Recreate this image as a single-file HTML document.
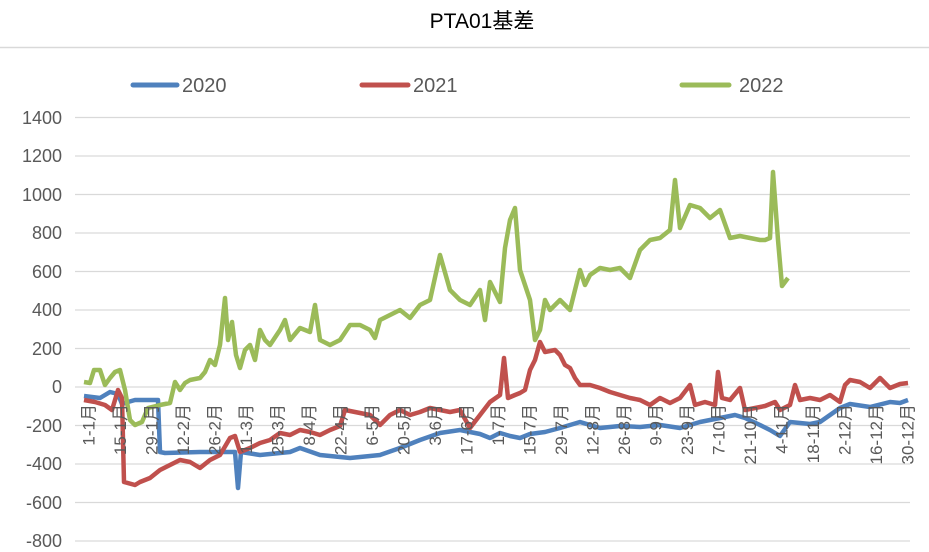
<!DOCTYPE html>
<html><head><meta charset="utf-8"><style>body{margin:0;background:#fff}svg{display:block}</style></head><body>
<svg width="929" height="552" xmlns="http://www.w3.org/2000/svg" font-family="Liberation Sans, Noto Sans CJK SC, sans-serif">
<rect width="929" height="552" fill="#fff"/>
<text x="482" y="28" font-size="21" text-anchor="middle" fill="#000">PTA01<tspan font-family="Noto Sans CJK SC, sans-serif">基差</tspan></text>
<line x1="0" y1="47.5" x2="929" y2="47.5" stroke="#d9d9d9" stroke-width="1.5"/>
<g stroke="#d9d9d9" stroke-width="1.3">
<line x1="75" x2="910" y1="117.5" y2="117.5"/><line x1="75" x2="910" y1="156" y2="156"/><line x1="75" x2="910" y1="194.5" y2="194.5"/><line x1="75" x2="910" y1="233" y2="233"/><line x1="75" x2="910" y1="271.5" y2="271.5"/><line x1="75" x2="910" y1="310" y2="310"/><line x1="75" x2="910" y1="348.5" y2="348.5"/><line x1="75" x2="910" y1="387" y2="387"/><line x1="75" x2="910" y1="425.5" y2="425.5"/><line x1="75" x2="910" y1="464" y2="464"/><line x1="75" x2="910" y1="502.5" y2="502.5"/><line x1="75" x2="910" y1="541" y2="541"/>
</g>
<g font-size="18" fill="#595959" text-anchor="end">
<text x="62" y="124">1400</text><text x="62" y="162">1200</text><text x="62" y="201">1000</text><text x="62" y="239">800</text><text x="62" y="278">600</text><text x="62" y="316">400</text><text x="62" y="355">200</text><text x="62" y="393">0</text><text x="62" y="432">-200</text><text x="62" y="470">-400</text><text x="62" y="509">-600</text><text x="62" y="547">-800</text>
</g>
<g stroke-linecap="round" stroke-width="5">
<line x1="133" y1="85" x2="177" y2="85" stroke="#4F81BD"/>
<line x1="362" y1="85" x2="408" y2="85" stroke="#C0504D"/>
<line x1="682" y1="85" x2="729" y2="85" stroke="#9BBB59"/>
</g>
<g font-size="20" fill="#595959">
<text x="182" y="92">2020</text><text x="413" y="92">2021</text><text x="739" y="92">2022</text>
</g>
<g fill="none" stroke-width="4.5" stroke-linejoin="round">
<polyline stroke="#4F81BD" points="84,396 100,398 110,392 118,394 122,404 128,402 135,400 158,400 160,452 165,453 200,452 235,452 238,488 241,452 260,455 290,452 300,448 320,455 350,458 380,455 400,448 420,440 440,433 460,430 480,434 490,438 500,433 510,436 520,438 530,434 545,432 560,428 570,425 580,422 600,428 620,426 640,427 660,425 680,428 700,422 720,418 735,415 745,418 760,425 770,430 780,436 790,422 810,424 820,422 830,415 840,408 850,404 870,407 890,402 900,403 908,400"/>
<polyline stroke="#C0504D" points="84,400 95,402 105,405 112,410 118,390 122,398 124,482 135,485 140,482 150,478 160,470 170,465 180,460 190,462 200,468 210,460 220,455 230,438 235,436 240,452 250,448 260,443 270,440 280,433 290,435 300,430 310,432 320,435 330,430 340,426 345,410 350,411 360,413 370,415 380,425 390,415 400,410 410,415 420,412 430,408 440,410 450,412 460,410 470,428 480,415 490,402 500,395 504,358 508,398 515,395 520,393 525,390 530,370 535,360 540,342 545,352 555,350 560,355 565,365 570,368 575,378 580,385 590,385 600,388 610,392 620,395 630,398 640,400 650,405 660,398 670,403 680,398 690,385 695,405 705,402 715,405 718,372 722,398 730,400 740,388 745,410 755,408 765,406 775,402 780,410 790,405 795,385 800,400 810,398 820,400 830,395 840,402 845,385 850,380 860,382 870,388 880,378 890,388 900,384 908,383"/>
<polyline stroke="#9BBB59" points="84,382 90,383 94,370 100,370 105,385 110,378 115,372 120,370 125,390 130,420 135,425 142,422 148,408 160,405 170,403 175,382 180,390 185,383 190,380 200,378 205,372 210,360 215,365 220,345 225,298 228,340 232,322 236,355 240,368 245,350 250,345 255,360 260,330 265,340 270,345 280,330 285,320 290,340 300,328 310,332 315,305 320,340 330,345 340,340 350,325 360,325 370,330 375,338 380,320 390,315 400,310 410,318 420,305 430,300 440,255 450,290 460,300 470,305 480,290 485,320 490,282 500,302 505,248 510,220 515,208 520,270 525,285 530,300 535,340 540,330 545,300 550,310 560,300 570,310 580,270 585,285 590,275 600,268 610,270 620,268 630,278 640,250 650,240 660,238 670,230 675,180 680,228 690,205 700,208 710,218 720,210 730,238 740,236 750,238 760,240 765,240 770,238 773,172 778,240 782,286 788,278"/>
</g>
<g font-size="17" fill="#595959" text-anchor="end">
<text transform="translate(94.5,404) rotate(-90)">1-1月</text>
<text transform="translate(126,404) rotate(-90)">15-1月</text>
<text transform="translate(157.5,404) rotate(-90)">29-1月</text>
<text transform="translate(189,404) rotate(-90)">12-2月</text>
<text transform="translate(220.5,404) rotate(-90)">26-2月</text>
<text transform="translate(252,404) rotate(-90)">11-3月</text>
<text transform="translate(283.5,404) rotate(-90)">25-3月</text>
<text transform="translate(315,404) rotate(-90)">8-4月</text>
<text transform="translate(346.5,404) rotate(-90)">22-4月</text>
<text transform="translate(378,404) rotate(-90)">6-5月</text>
<text transform="translate(409.5,404) rotate(-90)">20-5月</text>
<text transform="translate(441,404) rotate(-90)">3-6月</text>
<text transform="translate(472.5,404) rotate(-90)">17-6月</text>
<text transform="translate(504,404) rotate(-90)">1-7月</text>
<text transform="translate(535.5,404) rotate(-90)">15-7月</text>
<text transform="translate(567,404) rotate(-90)">29-7月</text>
<text transform="translate(598.5,404) rotate(-90)">12-8月</text>
<text transform="translate(630,404) rotate(-90)">26-8月</text>
<text transform="translate(661.5,404) rotate(-90)">9-9月</text>
<text transform="translate(693,404) rotate(-90)">23-9月</text>
<text transform="translate(724.5,404) rotate(-90)">7-10月</text>
<text transform="translate(756,404) rotate(-90)">21-10月</text>
<text transform="translate(787.5,404) rotate(-90)">4-11月</text>
<text transform="translate(819,404) rotate(-90)">18-11月</text>
<text transform="translate(850.5,404) rotate(-90)">2-12月</text>
<text transform="translate(882,404) rotate(-90)">16-12月</text>
<text transform="translate(913.5,404) rotate(-90)">30-12月</text>
</g>
</svg>
</body></html>
